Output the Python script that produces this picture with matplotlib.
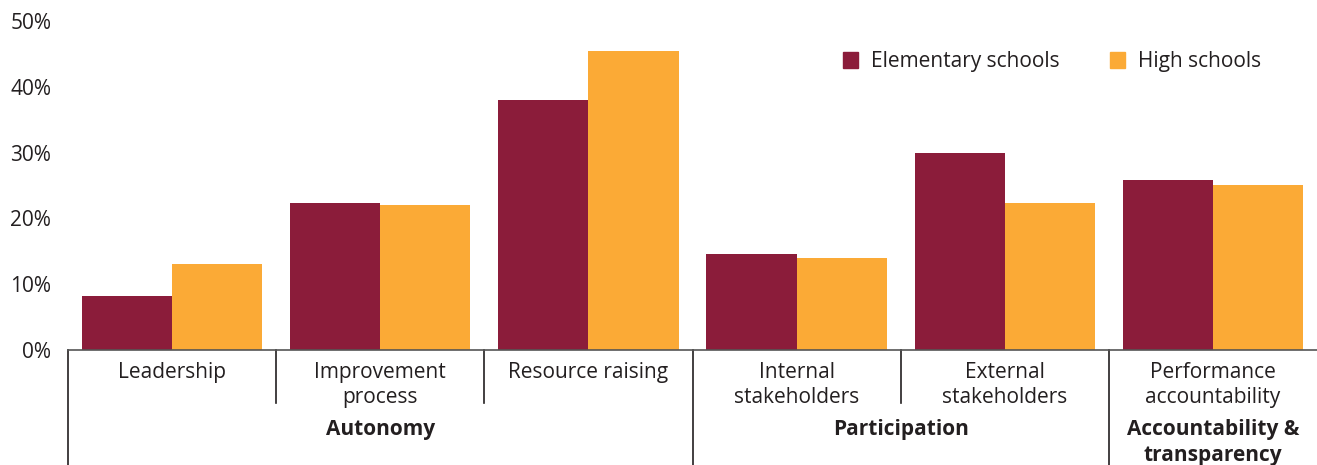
import numpy as np
from matplotlib import pyplot as plt
from matplotlib.patches import Patch
from matplotlib.transforms import blended_transform_factory

plt.rcParams['font.family'] = ['Open Sans', 'DejaVu Sans']

categories = ['Leadership', 'Improvement\nprocess', 'Resource raising',
              'Internal\nstakeholders', 'External\nstakeholders', 'Performance\naccountability']
elementary = [8.2, 22.4, 38.0, 14.6, 30.0, 25.9]
high = [13.1, 22.1, 45.4, 14.0, 22.3, 25.0]
groups = ['Autonomy', 'Participation', 'Accountability &\ntransparency']
group_spans = [(0, 2), (3, 4), (5, 5)]
yticks = [0, 10, 20, 30, 40, 50]

c_elem = '#8B1C3A'
c_high = '#FBAA36'
txt = '#231F20'
fs = 15

fig = plt.figure(figsize=(13.17, 4.65), dpi=100)
ax = fig.add_axes([68/1317, 115/465, 1 - 68/1317, 329/465])

x = np.arange(len(categories))
w = 0.433
ax.bar(x - w/2, elementary, w, color=c_elem, label='Elementary schools')
ax.bar(x + w/2, high, w, color=c_high, label='High schools')

ax.set_xlim(-0.5, len(categories) - 0.5)
ax.set_ylim(0, 50)
ax.set_yticks(yticks)
ax.set_yticklabels([f'{v}%' for v in yticks], fontsize=fs, color=txt)
ax.tick_params(axis='y', length=0, pad=12)
ax.set_xticks([])
for s in ['top', 'right', 'left']:
    ax.spines[s].set_visible(False)
ax.spines['bottom'].set_color('#555555')
ax.spines['bottom'].set_linewidth(1.2)

tr = blended_transform_factory(ax.transData, ax.transAxes)

# category labels
for i, c in enumerate(categories):
    ax.text(i, -0.035, c, transform=tr, ha='center', va='top', fontsize=fs,
            color=txt, linespacing=1.3)

# separators
starts = [g[0] for g in group_spans]
for b in range(len(categories)):
    xb = b - 0.5
    if b in starts:
        ax.plot([xb, xb], [0, -0.35], transform=tr, color=txt, lw=1.2, clip_on=False)
    else:
        ax.plot([xb, xb], [0, -0.161], transform=tr, color=txt, lw=1.2, clip_on=False)

# group labels
for g, (a, b) in zip(groups, group_spans):
    ax.text((a + b) / 2, -0.21, g, transform=tr, ha='center', va='top', fontsize=fs,
            fontweight='bold', color=txt, linespacing=1.3)

handles = [Patch(color=c_elem, label='Elementary schools'),
           Patch(color=c_high, label='High schools')]
leg = ax.legend(handles=handles, ncol=2, frameon=False, loc='upper right',
                bbox_to_anchor=(0.97, 0.965), fontsize=fs, handlelength=0.75,
                handleheight=0.75, columnspacing=2.4, handletextpad=0.6)
for t in leg.get_texts():
    t.set_color(txt)

fig.savefig('out.png', dpi=100)
